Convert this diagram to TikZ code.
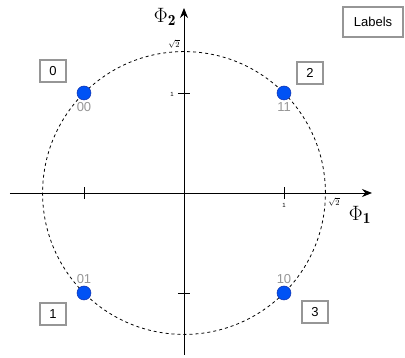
\documentclass[tikz,border=0pt]{standalone}
\usepackage{amsmath}
\usepackage{fontspec}
\setsansfont{Liberation Sans}
\usepackage{tikz}
\usetikzlibrary{arrows.meta,positioning}
\definecolor{ptblue} {RGB}{  0, 82,245}
\definecolor{ptedge} {RGB}{ 20, 50,170}
\definecolor{boxgray}{RGB}{150,150,150}
\definecolor{lblgray}{RGB}{150,150,150}
\tikzset{
  ax/.style   ={-{Stealth[length=10pt,width=8pt]},line width=0.9pt},
  tk/.style   ={line width=0.8pt},
  pt/.style   ={circle,fill=ptblue,draw=ptedge,line width=0.5pt,
                minimum size=14pt,inner sep=0pt},
  bits/.style ={font=\sffamily\fontsize{13}{13}\selectfont,text=lblgray,inner sep=1pt},
  symb/.style ={rectangle,draw=boxgray,line width=2pt,fill=white,
                minimum width=26pt,minimum height=22pt,inner sep=2pt,
                font=\sffamily\fontsize{13}{13}\selectfont},
  ticklbl/.style={font=\sffamily\fontsize{6}{6}\selectfont,inner sep=1pt},
  rootlbl/.style={font=\fontsize{8}{8}\selectfont,inner sep=1pt},
  axlbl/.style  ={font=\fontsize{22}{22}\selectfont,inner sep=1pt},
}
\begin{document}
\begin{tikzpicture}[x=100pt,y=100pt]
  \useasboundingbox (-1.84,-1.65) rectangle (2.21,1.93);
  % constellation circle
  \draw[dash pattern=on 3pt off 3pt,line width=0.8pt] (0,0) circle (1.4142);
  % axes
  \coordinate (xl) at (-1.74,0);
  \coordinate (xr) at (1.88,0);
  \coordinate (yb) at (0,-1.62);
  \coordinate (yt) at (0,1.85);
  \draw[ax] (xl) -- (xr);
  \draw[ax] (yb) -- (yt);
  \node[axlbl] (phi1) at (1.76,-0.22) {$\Phi_{\mathbf{1}}$};
  \node[axlbl] (phi2) at (-0.19,1.76) {$\Phi_{\mathbf{2}}$};
  % ticks
  \foreach \t in {-1,1} {
    \draw[tk] (\t,-0.06) -- (\t,0.06);
    \draw[tk] (-0.06,\t) -- (0.06,\t);
  }
  \node[ticklbl] (tx1) at (1.0,-0.12) {1};
  \node[ticklbl] (ty1) at (-0.12,0.99) {1};
  \node[rootlbl] (txr) at (1.50,-0.09) {$\sqrt{2}$};
  \node[rootlbl] (tyr) at (-0.10,1.49) {$\sqrt{2}$};
  % symbols
  \node[pt] (p00) at (-1, 1) {};
  \node[pt] (p11) at ( 1, 1) {};
  \node[pt] (p01) at (-1,-1) {};
  \node[pt] (p10) at ( 1,-1) {};
  \node[bits,below=1pt of p00] (b00) {00};
  \node[bits,below=1pt of p11] (b11) {11};
  \node[bits,above=1pt of p01] (b01) {01};
  \node[bits,above=1pt of p10] (b10) {10};
  % symbol indices
  \node[symb] (s0) at (-1.31, 1.22) {0};
  \node[symb] (s2) at ( 1.26, 1.20) {2};
  \node[symb] (s1) at (-1.31,-1.21) {1};
  \node[symb] (s3) at ( 1.31,-1.19) {3};
  \node[symb,minimum width=60pt,minimum height=30pt] (leg) at (1.89,1.71) {Labels};
\end{tikzpicture}
\end{document}
